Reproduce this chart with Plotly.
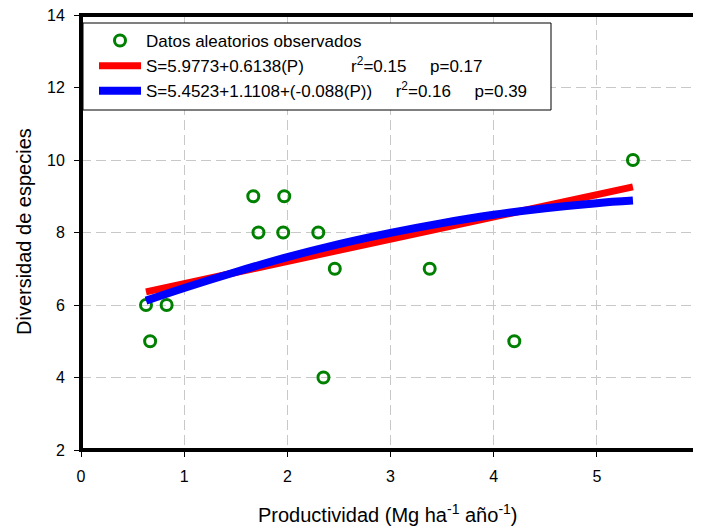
import plotly.graph_objects as go

prod_obs = [0.63, 0.83, 0.67, 1.67, 1.72, 1.97, 1.96, 2.30, 2.46, 2.35, 3.38, 4.20, 5.35]
div_obs = [6, 6, 5, 9, 8, 9, 8, 8, 7, 4, 7, 5, 10]

# Linear fit line
prod_lin = [0.63, 5.35]
div_lin = [6.36, 9.26]

# Quadratic fit curve
prod_quad = [0.63, 1.0, 1.5, 2.0, 2.5, 3.0, 3.5, 4.0, 4.5, 5.0, 5.35]
div_quad = [6.12, 6.47, 6.91, 7.32, 7.68, 7.99, 8.26, 8.49, 8.67, 8.81, 8.88]

x_ticks = [0, 1, 2, 3, 4, 5, 6]
y_ticks = [2, 4, 6, 8, 10, 12, 14]

x_title = "Productividad (Mg ha<sup>-1</sup> año<sup>-1</sup>)"
y_title = "Diversidad de especies"

NB = "\u00a0"
name_obs = "Datos aleatorios observados"
name_lin = "S=5.9773+0.6138(P)" + NB * 10 + "r<sup>2</sup>=0.15" + NB * 5 + "p=0.17"
name_quad = "S=5.4523+1.1108+(-0.088(P))" + NB * 5 + "r<sup>2</sup>=0.16" + NB * 5 + "p=0.39"

FONT = "Liberation Sans, Arial, sans-serif"

# figure geometry (page body adds an 8px offset)
W, H = 693, 519
ML, MR, MT = 73, 1, 7
MB = H - 442
PW = W - ML - MR
PH = H - MT - MB


def px_x(v):
    return (v - 8 - ML) / PW


def px_y(v):
    return 1 - (v - 8 - MT) / PH


fig = go.Figure()
fig.add_trace(go.Scatter(
    x=prod_obs, y=div_obs, mode="markers", name=name_obs,
    marker=dict(symbol="circle-open", size=11, color="#008000", line=dict(width=3, color="#008000")),
))
fig.add_trace(go.Scatter(
    x=prod_lin, y=div_lin, mode="lines", name=name_lin,
    line=dict(color="#ff0000", width=7),
))
fig.add_trace(go.Scatter(
    x=prod_quad, y=div_quad, mode="lines", name=name_quad,
    line=dict(color="#0000ff", width=8, shape="spline"),
))

# legend box and plot frame
fig.add_shape(type="rect", xref="paper", yref="paper",
              x0=px_x(83), x1=px_x(551), y0=px_y(110), y1=px_y(23),
              line=dict(color="black", width=1), fillcolor="white", layer="above")
fig.add_shape(type="rect", xref="paper", yref="paper",
              x0=0, x1=1, y0=0, y1=1,
              line=dict(color="black", width=4), fillcolor="rgba(0,0,0,0)", layer="above")

# axis titles
fig.add_annotation(text=x_title, xref="paper", yref="paper",
                   x=px_x(388), y=px_y(513), xanchor="center", yanchor="middle",
                   showarrow=False, font=dict(family=FONT, size=20, color="black"))
fig.add_annotation(text=y_title, xref="paper", yref="paper",
                   x=px_x(24), y=px_y(232), xanchor="center", yanchor="middle",
                   textangle=-90, showarrow=False,
                   font=dict(family=FONT, size=20, color="black"))

axis_common = dict(
    showline=False, zeroline=False, automargin=False,
    ticks="outside", ticklen=6, tickwidth=1, tickcolor="black",
    showgrid=True, gridcolor="#c8c8c8", gridwidth=1.2, griddash="10px,5px",
    tickfont=dict(family=FONT, size=16, color="black"),
    ticklabeloverflow="allow",
    ticklabelstandoff=6,
)

fig.update_layout(
    width=W, height=H,
    template="none",
    paper_bgcolor="white", plot_bgcolor="white",
    margin=dict(l=ML, r=MR, t=MT, b=MB),
    font=dict(family=FONT, size=16, color="black"),
    showlegend=True,
    legend=dict(
        x=px_x(94), y=px_y(23), xanchor="left", yanchor="top",
        bgcolor="rgba(0,0,0,0)", borderwidth=0,
        font=dict(family=FONT, size=17, color="black"),
        itemwidth=42, tracegroupgap=0,
    ),
    xaxis=dict(
        range=[0, 6], tickvals=x_ticks, ticktext=[str(v) for v in x_ticks],
        **axis_common,
    ),
    yaxis=dict(
        range=[2, 14], tickvals=y_ticks, ticktext=[str(v) for v in y_ticks],
        **axis_common,
    ),
)

fig.write_html("out.html")
